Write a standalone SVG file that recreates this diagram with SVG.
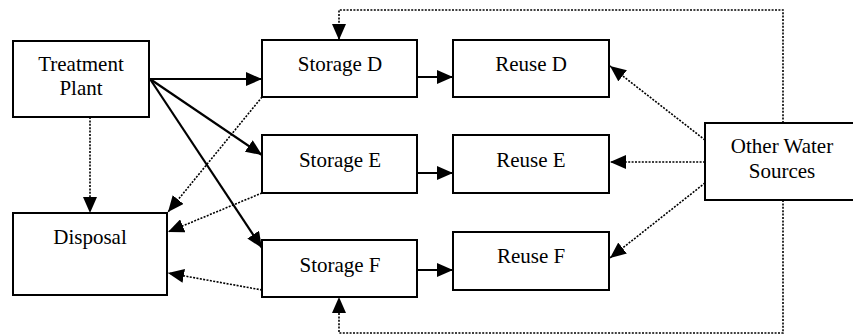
<svg xmlns="http://www.w3.org/2000/svg" width="853" height="335" viewBox="0 0 853 335">
<defs>
<style>
.box{fill:#fff;stroke:#000;stroke-width:2}
.lbl{font-family:'Liberation Serif','Times New Roman',serif;font-size:21px;fill:#000;text-anchor:middle}
.solid{stroke:#000;stroke-width:2.2;fill:none}
.dot{stroke:#000;stroke-width:1.6;fill:none;stroke-dasharray:2 1.4}
</style>
<marker id="ah" viewBox="0 0 16 14" refX="16" refY="7" markerWidth="16" markerHeight="14" markerUnits="userSpaceOnUse" orient="auto">
<path d="M0,0 L16,7 L0,14 Z" fill="#000"/>
</marker>
</defs>
<rect width="853" height="335" fill="#fff"/>
<g id="connectors">
<line class="solid" x1="150" y1="79" x2="262" y2="79" marker-end="url(#ah)"/>
<line class="solid" x1="150" y1="79" x2="262" y2="155" marker-end="url(#ah)"/>
<line class="solid" x1="150" y1="79" x2="262" y2="248" marker-end="url(#ah)"/>
<line class="dot" x1="90" y1="117" x2="90" y2="213" marker-end="url(#ah)"/>
<line class="dot" x1="262" y1="97" x2="168" y2="212" marker-end="url(#ah)"/>
<line class="dot" x1="262" y1="193" x2="168" y2="232" marker-end="url(#ah)"/>
<line class="dot" x1="262" y1="290" x2="168" y2="273" marker-end="url(#ah)"/>
<line class="solid" x1="417" y1="77" x2="453" y2="77" marker-end="url(#ah)"/>
<line class="solid" x1="417" y1="173" x2="453" y2="173" marker-end="url(#ah)"/>
<line class="solid" x1="417" y1="270" x2="453" y2="270" marker-end="url(#ah)"/>
<line class="dot" x1="705" y1="140" x2="610" y2="66" marker-end="url(#ah)"/>
<line class="dot" x1="705" y1="162" x2="610" y2="162" marker-end="url(#ah)"/>
<line class="dot" x1="705" y1="183" x2="610" y2="258" marker-end="url(#ah)"/>
<polyline class="dot" points="783,123 783,10 339,10 339,40" marker-end="url(#ah)"/>
<polyline class="dot" points="783,200 783,333 339,333 339,297" marker-end="url(#ah)"/>
</g>
<g id="treatment-plant">
<rect class="box" x="13" y="41" width="136" height="76"/>
<text class="lbl" x="81" y="71">Treatment</text>
<text class="lbl" x="81" y="95">Plant</text>
</g>
<g id="disposal">
<rect class="box" x="13" y="213" width="154" height="82"/>
<text class="lbl" x="90" y="244">Disposal</text>
</g>
<g id="storage-d">
<rect class="box" x="262" y="40" width="155" height="57"/>
<text class="lbl" x="340" y="71">Storage D</text>
</g>
<g id="storage-e">
<rect class="box" x="262" y="135" width="155" height="58"/>
<text class="lbl" x="340" y="167">Storage E</text>
</g>
<g id="storage-f">
<rect class="box" x="262" y="240" width="155" height="57"/>
<text class="lbl" x="340" y="272">Storage F</text>
</g>
<g id="reuse-d">
<rect class="box" x="453" y="40" width="156" height="57"/>
<text class="lbl" x="531" y="71">Reuse D</text>
</g>
<g id="reuse-e">
<rect class="box" x="453" y="135" width="156" height="58"/>
<text class="lbl" x="531" y="167">Reuse E</text>
</g>
<g id="reuse-f">
<rect class="box" x="453" y="232" width="156" height="58"/>
<text class="lbl" x="531" y="263">Reuse F</text>
</g>
<g id="other-water-sources">
<rect class="box" x="705" y="123" width="160" height="77"/>
<text class="lbl" x="782" y="153">Other Water</text>
<text class="lbl" x="782" y="178">Sources</text>
</g>
</svg>
